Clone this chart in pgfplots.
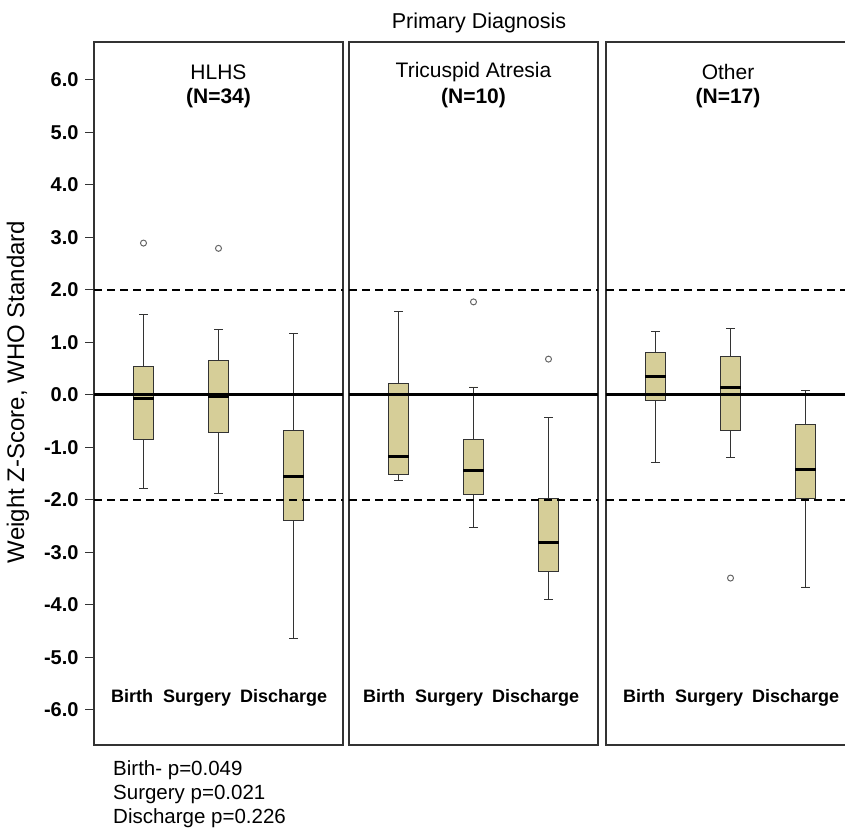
\documentclass[border=0pt]{standalone}
\usepackage{fontspec}
\setmainfont{Liberation Sans}
\usepackage{pgfplots}
\pgfplotsset{compat=1.18}
\usepgfplotslibrary{statistics}
\definecolor{boxc}{RGB}{214,206,152}
\pgfplotsset{
  panel/.style={scale only axis, height=703pt, ymin=-6.67, ymax=6.72, xmin=0.34,
    xtick=\empty, ytick=\empty, axis line style={line width=2.6pt, black!80}, anchor=north west},
  bpst/.style={draw=black!80, line width=0.8pt, fill=boxc, mark=o, mark size=3pt,
    mark options={draw=black!60, line width=1pt, fill=none},
    boxplot/draw direction=y,
    boxplot/box extend=0.27, boxplot/whisker extend=0.12,
    boxplot/every median/.style={line width=3pt, draw=black}},
  zeroln/.style={black, line width=3pt, forget plot},
  dashln/.style={black, line width=2pt, dash pattern=on 8pt off 5pt, forget plot},
}
\newcommand{\reflines}[2]{%
  \addplot[zeroln] coordinates {(#1,0) (#2,0)};
  \addplot[dashln] coordinates {(#1,2) (#2,2)};
  \addplot[dashln] coordinates {(#1,-2) (#2,-2)};}
\begin{document}
\begin{tikzpicture}
\useasboundingbox (0,0) rectangle (845pt,-829pt);
% Panel 1: HLHS
\begin{axis}[panel, at={(94pt,-42pt)}, width=249pt, xmax=3.66,
  ytick={-6,-5,...,6}, ytick pos=left, tick align=outside, major tick length=9pt,
  tick style={line width=1.2pt, black!80},
  yticklabel style={font=\fontsize{20}{24}\selectfont\bfseries, xshift=-3pt},
  yticklabel={\pgfmathprintnumber[fixed, fixed zerofill, precision=1, assume math mode=true]{\tick}}]
\addplot[bpst, boxplot prepared={draw position=1, lower whisker=-1.78, lower quartile=-0.84, median=-0.07, upper quartile=0.54, upper whisker=1.53}] coordinates {(0,2.89)};
\addplot[bpst, boxplot prepared={draw position=2, lower whisker=-1.88, lower quartile=-0.72, median=-0.03, upper quartile=0.65, upper whisker=1.24}] coordinates {(0,2.79)};
\addplot[bpst, boxplot prepared={draw position=3, lower whisker=-4.64, lower quartile=-2.40, median=-1.56, upper quartile=-0.67, upper whisker=1.17}] coordinates {};
\reflines{0.34}{3.66}
\end{axis}
% Panel 2: Tricuspid Atresia
\begin{axis}[panel, at={(349pt,-42pt)}, width=249pt, xmax=3.66]
\addplot[bpst, boxplot prepared={draw position=1, lower whisker=-1.63, lower quartile=-1.52, median=-1.17, upper quartile=0.22, upper whisker=1.58}] coordinates {};
\addplot[bpst, boxplot prepared={draw position=2, lower whisker=-2.52, lower quartile=-1.90, median=-1.45, upper quartile=-0.85, upper whisker=0.15}] coordinates {(0,1.77)};
\addplot[bpst, boxplot prepared={draw position=3, lower whisker=-3.90, lower quartile=-3.36, median=-2.81, upper quartile=-1.97, upper whisker=-0.43}] coordinates {(0,0.68)};
\reflines{0.34}{3.66}
\end{axis}
% Panel 3: Other
\begin{axis}[panel, at={(606pt,-42pt)}, width=244pt, xmax=3.593]
\addplot[bpst, boxplot prepared={draw position=1, lower whisker=-1.28, lower quartile=-0.11, median=0.34, upper quartile=0.80, upper whisker=1.21}] coordinates {};
\addplot[bpst, boxplot prepared={draw position=2, lower whisker=-1.19, lower quartile=-0.67, median=0.13, upper quartile=0.74, upper whisker=1.26}] coordinates {(0,-3.49)};
\addplot[bpst, boxplot prepared={draw position=3, lower whisker=-3.66, lower quartile=-1.97, median=-1.43, upper quartile=-0.57, upper whisker=0.09}] coordinates {};
\reflines{0.34}{3.593}
\end{axis}
% Titles and labels
\node[font=\fontsize{21.5}{25}\selectfont] at (479pt,-23pt) {Primary Diagnosis};
\node[font=\fontsize{24}{28}\selectfont, rotate=90] at (18pt,-392pt) {Weight Z-Score, WHO Standard};
\foreach \cx/\ttl/\nn in {218.5/HLHS/34, 473.5/Tricuspid Atresia/10, 728/Other/17}{
  \node[font=\fontsize{21}{24}\selectfont] at (\cx pt,-72pt) {\ttl};
  \node[font=\fontsize{21}{24}\selectfont\bfseries] at (\cx pt,-98pt) {(N=\nn)};
}
\foreach \off in {0,252,512}{
  \node[font=\fontsize{18}{22}\selectfont\bfseries, anchor=base west, inner sep=0pt] at ({111pt+\off pt},-702pt) {Birth};
  \node[font=\fontsize{18}{22}\selectfont\bfseries, anchor=base west, inner sep=0pt] at ({163pt+\off pt},-702pt) {Surgery};
  \node[font=\fontsize{18}{22}\selectfont\bfseries, anchor=base west, inner sep=0pt] at ({240pt+\off pt},-702pt) {Discharge};
}
\node[font=\fontsize{20.5}{24}\selectfont, anchor=base west, inner sep=0pt] at (113pt,-775pt) {Birth- p=0.049};
\node[font=\fontsize{20.5}{24}\selectfont, anchor=base west, inner sep=0pt] at (113pt,-799pt) {Surgery p=0.021};
\node[font=\fontsize{20.5}{24}\selectfont, anchor=base west, inner sep=0pt] at (113pt,-823pt) {Discharge p=0.226};
\end{tikzpicture}
\end{document}
